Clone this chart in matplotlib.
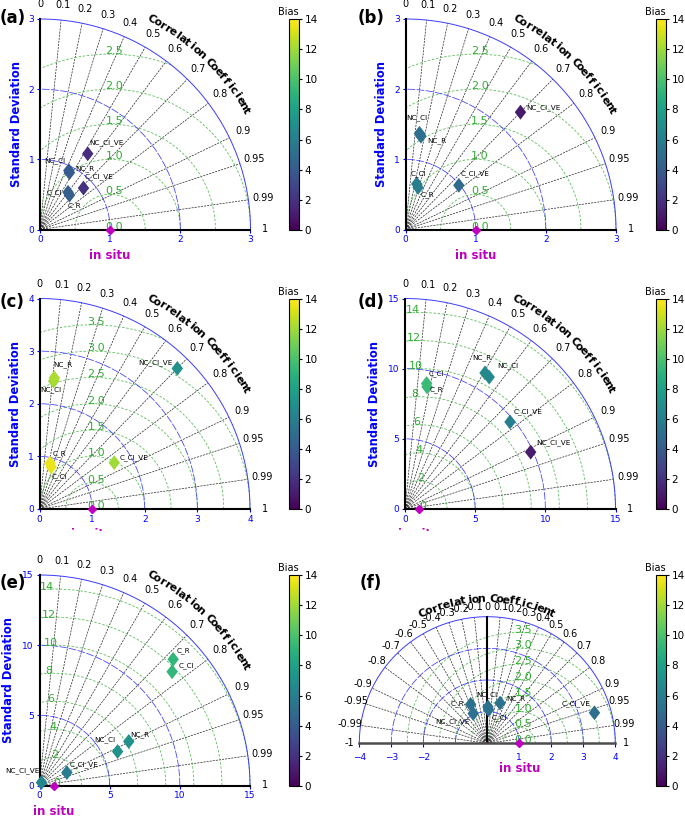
import numpy as np
import matplotlib
matplotlib.use('Agg')
import matplotlib.pyplot as plt
from matplotlib.patches import Rectangle

W, H = 685, 817

# model order used in every panel
models = ['NC_Cl_VE', 'NC_Cl', 'NC_R', 'C_Cl_VE', 'C_Cl', 'C_R']
obs_std = 1.0

# (a)
std_a = [1.276, 0.935, 0.912, 0.856, 0.664, 0.645]
cor_a = [0.533, 0.439, 0.460, 0.724, 0.602, 0.651]
bias_a = [1.8, 4.1, 4.0, 2.0, 4.2, 4.2]
# (b)
std_b = [2.341, 1.385, 1.348, 0.987, 0.669, 0.626]
cor_b = [0.700, 0.144, 0.163, 0.770, 0.239, 0.287]
bias_b = [1.0, 5.0, 5.0, 4.8, 6.0, 6.0]
# (c)
std_c = [3.741, 2.445, 2.506, 1.671, 0.830, 0.893]
cor_c = [0.700, 0.110, 0.112, 0.850, 0.265, 0.224]
bias_c = [7.0, 12.0, 12.2, 12.0, 13.5, 13.6]
# (d)
std_d = [9.83, 11.15, 11.25, 9.72, 9.07, 8.84]
cor_d = [0.911, 0.538, 0.507, 0.770, 0.170, 0.178]
bias_d = [1.0, 6.6, 6.6, 6.0, 9.5, 9.5]
# (e)
std_e = [0.252, 6.07, 7.09, 2.156, 12.45, 13.10]
cor_e = [0.555, 0.917, 0.897, 0.904, 0.759, 0.727]
bias_e = [6.5, 7.0, 7.0, 5.9, 9.2, 9.2]
# (f)
std_f = [1.038, 1.150, 1.332, 3.485, 1.061, 1.335]
cor_f = [-0.424, 0.017, 0.300, 0.961, 0.038, -0.390]
bias_f = [5.2, 5.2, 5.3, 5.0, 5.2, 5.2]

cor_pos = [0.1, 0.2, 0.3, 0.4, 0.5, 0.6, 0.7, 0.8, 0.9, 0.95, 0.99]
cor_lab_q = [0] + cor_pos + [1]
cor_lab_f = [-1] + [-c for c in cor_pos[::-1]] + [0] + cor_pos + [1]

rms_3 = [0.0, 0.5, 1.0, 1.5, 2.0, 2.5]
rms_4 = [0.0, 0.5, 1.0, 1.5, 2.0, 2.5, 3.0, 3.5]
rms_15 = [0, 2, 4, 6, 8, 10, 12, 14]

# label offsets in pixels (dx, dy, ha, va), same order as models
off_a = [(2, 8, 'left', 'bottom'), (-3, 7, 'right', 'bottom'), (6, 4, 'left', 'center'),
         (1, 8, 'left', 'bottom'), (-6, 0, 'right', 'center'), (-2, -7, 'left', 'top')]
off_b = [(6, 5, 'left', 'center'), (-3, 12, 'center', 'bottom'), (6, -4, 'left', 'center'),
         (2, 8, 'left', 'bottom'), (2, 7, 'center', 'bottom'), (3, -7, 'left', 'center')]
off_c = [(-5, 6, 'right', 'center'), (-3, -5, 'center', 'top'), (-1, 10, 'left', 'bottom'),
         (5, 5, 'left', 'center'), (1, -6, 'left', 'top'), (3, 6, 'left', 'bottom')]
off_d = [(6, 9, 'left', 'center'), (8, 11, 'left', 'center'), (-3, 12, 'center', 'bottom'),
         (4, 10, 'left', 'center'), (2, 7, 'left', 'bottom'), (3, -3, 'left', 'center')]
off_e = [(-2, 12, 'right', 'center'), (-2, 9, 'right', 'bottom'), (2, 7, 'left', 'center'),
         (3, 8, 'left', 'center'), (7, 6, 'left', 'center'), (3, 9, 'left', 'center')]
off_f = [(-4, -8, 'right', 'center'), (-1, 9, 'center', 'bottom'), (6, 4, 'left', 'center'),
         (-4, 9, 'right', 'center'), (3, -8, 'left', 'center'), (-6, 1, 'right', 'center')]

panels = [
    dict(tag='(a)', std=std_a, cor=cor_a, bias=bias_a, off=off_a, R=3, ticks=[0, 1, 2, 3], arcs=[1, 2, 3],
         rms=rms_3, full=False, box=(40, 19, 210.5, 210.5), cbar=(289, 19, 211), tagpos=(0, 18)),
    dict(tag='(b)', std=std_b, cor=cor_b, bias=bias_b, off=off_b, R=3, ticks=[0, 1, 2, 3], arcs=[1, 2, 3],
         rms=rms_3, full=False, box=(405.5, 19, 210.5, 210.5), cbar=(656, 19, 211), tagpos=(358, 18)),
    dict(tag='(c)', std=std_c, cor=cor_c, bias=bias_c, off=off_c, R=4, ticks=[0, 1, 2, 3, 4], arcs=[1, 2, 3, 4],
         rms=rms_4, full=False, box=(39.5, 298.5, 210.5, 210.5), cbar=(289, 299, 210), tagpos=(0, 302)),
    dict(tag='(d)', std=std_d, cor=cor_d, bias=bias_d, off=off_d, R=15, ticks=[0, 5, 10, 15], arcs=[5, 10, 15],
         rms=rms_15, full=False, box=(405, 298.5, 210.5, 210.5), cbar=(656, 299, 210), tagpos=(358, 302)),
    dict(tag='(e)', std=std_e, cor=cor_e, bias=bias_e, off=off_e, R=15, ticks=[0, 5, 10, 15], arcs=[5, 10, 15],
         rms=rms_15, full=False, box=(39.5, 575, 210.5, 210.5), cbar=(289, 575, 211), tagpos=(0, 583)),
    dict(tag='(f)', std=std_f, cor=cor_f, bias=bias_f, off=off_f, R=4, ticks=[-4, -3, -2, 1, 2, 3, 4],
         arcs=[1, 2, 3, 4], rms=rms_4, full=True, box=(359.3, 616.7, 256, 126.6), cbar=(656, 575, 211),
         tagpos=(360, 583)),
]

green_txt = '#2fae2f'
green_line = '#5cbd5c'
arc_blue = '#3b3bff'
diamond = [(0, 1), (0.77, 0), (0, -1), (-0.77, 0), (0, 1)]


def px_rect(l, t, w, h):
    return [l / W, 1 - (t + h) / H, w / W, h / H]


def arc_text(ax, text, r, a0, a1, fs):
    for ch, a in zip(text, np.linspace(a0, a1, len(text))):
        t = np.radians(a)
        ax.text(r * np.cos(t), r * np.sin(t), ch, rotation=a - 90, rotation_mode='anchor',
                ha='center', va='center', fontsize=fs, fontweight='bold', clip_on=False, zorder=7)


fig = plt.figure(figsize=(W / 100, H / 100), dpi=100)

for p in panels:
    R = p['R']
    full = p['full']
    xmin = -R if full else 0
    ax = fig.add_axes(px_rect(*p['box']))
    ax.set_xlim(xmin, R)
    ax.set_ylim(0, R)
    ax.patch.set_visible(False)
    for sp in ax.spines.values():
        sp.set_visible(False)

    th = np.linspace(0, np.pi if full else np.pi / 2, 500)
    # standard deviation arcs
    for s in p['arcs']:
        if s == R:
            ax.plot(s * np.cos(th), s * np.sin(th), color=arc_blue, lw=0.7, clip_on=False, zorder=2)
        else:
            ax.plot(s * np.cos(th), s * np.sin(th), color=arc_blue, lw=0.55, ls=(0, (10, 2)),
                    clip_on=False, zorder=2)

    # correlation rays and labels
    rays = cor_pos + ([-c for c in cor_pos] if full else [])
    for c in rays:
        a = np.arccos(c)
        ax.plot([0, R * np.cos(a)], [0, R * np.sin(a)], color='0.15', lw=0.5, ls=(0, (3, 1.5)),
                clip_on=False, zorder=1)
    lr = (1.08 if full else 1.07) * R
    for c in (cor_lab_f if full else cor_lab_q):
        a = np.arccos(c)
        ax.text(lr * np.cos(a), lr * np.sin(a), '{:g}'.format(c), fontsize=7, ha='center', va='center',
                clip_on=False)
    if full:
        arc_text(ax, 'Correlation Coefficient', 1.14 * R, 116, 64, 8)
    else:
        arc_text(ax, 'Correlation Coefficient', 1.13 * R, 62, 30, 8)

    # RMSD contours centred on the observation
    tt = np.linspace(0, np.pi, 800)
    for r in p['rms'][1:]:
        x = obs_std + r * np.cos(tt)
        y = r * np.sin(tt)
        ok = (x ** 2 + y ** 2 <= R ** 2 * 1.0005) & (x >= xmin)
        ax.plot(np.where(ok, x, np.nan), y, color=green_line, lw=0.6, ls=(0, (3, 2)), clip_on=False, zorder=1)
    for r in p['rms']:
        if R == 15:
            a = np.radians(94)
            xy, dx, lab = (obs_std + r * np.cos(a), r * np.sin(a)), 0, '{:g}'.format(r)
        else:
            xy, dx, lab = (obs_std, r), -3.4, '{:.1f}'.format(r)
        ax.annotate(lab, xy, xytext=(dx, 0), textcoords='offset points', color=green_txt, fontsize=8,
                    ha='left', va='baseline', annotation_clip=False, zorder=3)

    # axis lines
    ax.plot([0, 0], [0, R], color='k', lw=1.5, clip_on=False, zorder=3)
    ax.plot([xmin, R], [0, 0], color='0.3' if full else 'k', lw=1.8 if full else 1.5, clip_on=False, zorder=3)

    ax.set_xticks(p['ticks'])
    ax.tick_params(axis='x', colors='blue', labelsize=6.5, length=3 if full else 2, pad=4 if full else 2)
    if full:
        ax.set_yticks([])
    else:
        ax.set_yticks(p['ticks'])
        ax.tick_params(axis='y', colors='blue', labelsize=6.5, length=2, pad=2)
        ax.set_ylabel('Standard Deviation', color='blue', fontsize=8.3, fontweight='bold')
        ax.yaxis.set_label_coords(-(24 if R == 15 else 17.5) / 210.5, 0.5)

    # model points
    std = np.array(p['std'])
    cor = np.array(p['cor'])
    xs = std * cor
    ys = std * np.sqrt(1 - cor ** 2)
    sc = ax.scatter(xs, ys, c=p['bias'], cmap='viridis', vmin=0, vmax=14, marker=diamond, s=115,
                    linewidths=0, zorder=6, clip_on=False)
    for name, x, y, (dx, dy, ha, va) in zip(models, xs, ys, p['off']):
        ax.annotate(name, (x, y), xytext=(dx * 0.72, dy * 0.72), textcoords='offset points', fontsize=5.2,
                    ha=ha, va=va, annotation_clip=False, zorder=7)

    # observation
    ax.plot(obs_std, 0, marker='D', ms=4, color='m', mec='m', clip_on=False, zorder=8)
    ax.annotate('in situ', (obs_std, 0), xytext=(0, -18.5), textcoords='offset points', color='m',
                fontsize=8.5, fontweight='bold', ha='center', va='center', annotation_clip=False)

    # colorbar
    cl, ct, ch = p['cbar']
    cax = fig.add_axes(px_rect(cl, ct, 10, ch))
    cb = fig.colorbar(sc, cax=cax, ticks=range(0, 15, 2))
    cb.ax.tick_params(labelsize=7.5, length=2.5, pad=1.5)
    cb.outline.set_linewidth(0.8)
    cax.text(-0.08, 1.01, 'Bias', transform=cax.transAxes, fontsize=7, ha='center', va='bottom')

    fig.text(p['tagpos'][0] / W, 1 - p['tagpos'][1] / H, p['tag'], fontsize=12, fontweight='bold',
             ha='left', va='center')

# lower row covers the 'in situ' labels of the middle row
fig.patches.append(Rectangle((0, 1 - 552 / H), 1, 21 / H, transform=fig.transFigure,
                             facecolor='white', edgecolor='none', zorder=10))

fig.savefig('out.png', dpi=100)
